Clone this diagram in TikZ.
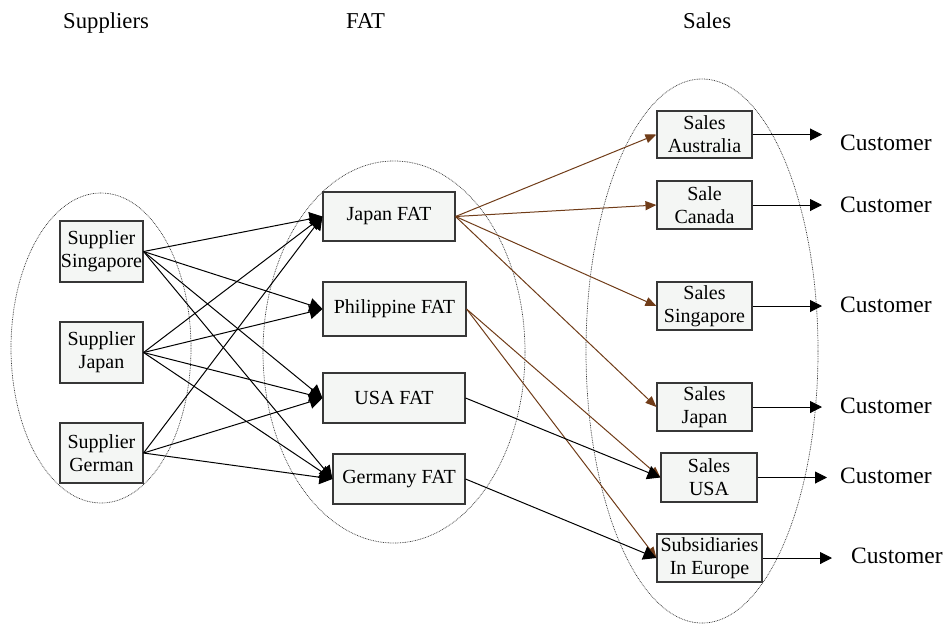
\documentclass[tikz,border=0pt]{standalone}
\usepackage{fontspec}
\setmainfont{Liberation Serif}
\usetikzlibrary{arrows.meta}
\definecolor{boxfill}{RGB}{244,246,244}
\definecolor{boxdraw}{RGB}{55,55,55}
\definecolor{brownln}{RGB}{112,60,24}
\tikzset{
  box/.style={draw=boxdraw, line width=1.1pt, fill=boxfill, inner sep=0pt, align=center,
    font=\fontsize{20}{23}\selectfont},
  header/.style={anchor=base west, inner sep=0pt, font=\fontsize{22.7}{26}\selectfont},
  custtext/.style={anchor=base west, inner sep=0pt, font=\fontsize{23.5}{26}\selectfont},
  group/.style={draw=black!80, line width=0.7pt, dash pattern=on 0.8pt off 0.9pt},
  bigarrow/.style={draw=black, line width=1pt, -{Triangle[length=13pt,width=14pt]}},
  brownarrow/.style={draw=brownln, line width=1pt, -{Triangle[length=11pt,width=9pt]}},
  custarrow/.style={draw=black, line width=1pt, -{Triangle[length=12pt,width=12pt]}},
}
\begin{document}
\begin{tikzpicture}[x=1pt,y=-1pt]
\useasboundingbox (0,0) rectangle (947,625);
% headers
\node[header] (h1) at (63,28) {Suppliers};
\node[header] (h2) at (346,28) {FAT};
\node[header] (h3) at (683,28) {Sales};
% group ellipses
\draw[group] (101,348) ellipse [x radius=90, y radius=155];
\draw[group] (394,352) ellipse [x radius=131, y radius=191];
\draw[group] (702,351) ellipse [x radius=116, y radius=272];
% supplier boxes
\node[box, minimum width=83pt, minimum height=61pt] (sS) at (101.5,251.5) {Supplier\\Singapore};
\node[box, minimum width=83pt, minimum height=61pt] (sJ) at (101.5,352.5) {Supplier\\Japan};
\node[box, minimum width=83pt, minimum height=60pt] (sG) at (101.5,453) {Supplier\\German};
% FAT boxes
\node[box, minimum width=132pt, minimum height=49pt] (fJ) at (389,216.5) {Japan FAT};
\node[box, minimum width=143pt, minimum height=54pt] (fP) at (394.5,309) {Philippine FAT};
\node[box, minimum width=142pt, minimum height=50pt] (fU) at (394,398) {USA FAT};
\node[box, minimum width=132pt, minimum height=50pt] (fG) at (399,479) {Germany FAT};
% sales boxes
\node[box, minimum width=95pt, minimum height=47pt] (xA) at (704.5,134.5) {Sales\\Australia};
\node[box, minimum width=95pt, minimum height=48pt] (xC) at (704.5,205) {Sale\\Canada};
\node[box, minimum width=95pt, minimum height=48pt] (xS) at (704.5,306) {Sales\\Singapore};
\node[box, minimum width=95pt, minimum height=48pt] (xJ) at (704.5,407) {Sales\\Japan};
\node[box, minimum width=96pt, minimum height=49pt] (xU) at (709,477.5) {Sales\\USA};
\node[box, minimum width=105pt, minimum height=48pt] (xE) at (709.5,558) {Subsidiaries\\In Europe};
% supplier -> FAT
\draw[bigarrow] (sS.east) -- (fJ.west);
\draw[bigarrow] (sS.east) -- (fP.west);
\draw[bigarrow] (sS.east) -- (fU.west);
\draw[bigarrow] (sS.east) -- (fG.west);
\draw[bigarrow] (sJ.east) -- (fJ.west);
\draw[bigarrow] (sJ.east) -- (fP.west);
\draw[bigarrow] (sJ.east) -- (fU.west);
\draw[bigarrow] (sJ.east) -- (fG.west);
\draw[bigarrow] (sG.east) -- (fJ.west);
\draw[bigarrow] (sG.east) -- (fU.west);
\draw[bigarrow] (sG.east) -- (fG.west);
% FAT -> sales
\draw[brownarrow] (fJ.east) -- (xA.west);
\draw[brownarrow] (fJ.east) -- (xC.west);
\draw[brownarrow] (fJ.east) -- (xS.west);
\draw[brownarrow] (fJ.east) -- (xJ.west);
\draw[brownarrow] (fP.east) -- (xU.west);
\draw[brownarrow] (fP.east) -- (xE.west);
\draw[bigarrow] (fU.east) -- (xU.west);
\draw[bigarrow] (fG.east) -- (xE.west);
% customers
\coordinate (c1) at (822,134.5);
\coordinate (c2) at (822,205);
\coordinate (c3) at (822,306);
\coordinate (c4) at (822,407);
\coordinate (c5) at (827,477.5);
\coordinate (c6) at (832,558);
\draw[custarrow] (xA.east) -- (c1);
\draw[custarrow] (xC.east) -- (c2);
\draw[custarrow] (xS.east) -- (c3);
\draw[custarrow] (xJ.east) -- (c4);
\draw[custarrow] (xU.east) -- (c5);
\draw[custarrow] (xE.east) -- (c6);
\node[custtext] (t1) at (840,150) {Customer};
\node[custtext] (t2) at (840,212) {Customer};
\node[custtext] (t3) at (840,312) {Customer};
\node[custtext] (t4) at (840,413) {Customer};
\node[custtext] (t5) at (840,483) {Customer};
\node[custtext] (t6) at (851,563) {Customer};
\end{tikzpicture}
\end{document}
